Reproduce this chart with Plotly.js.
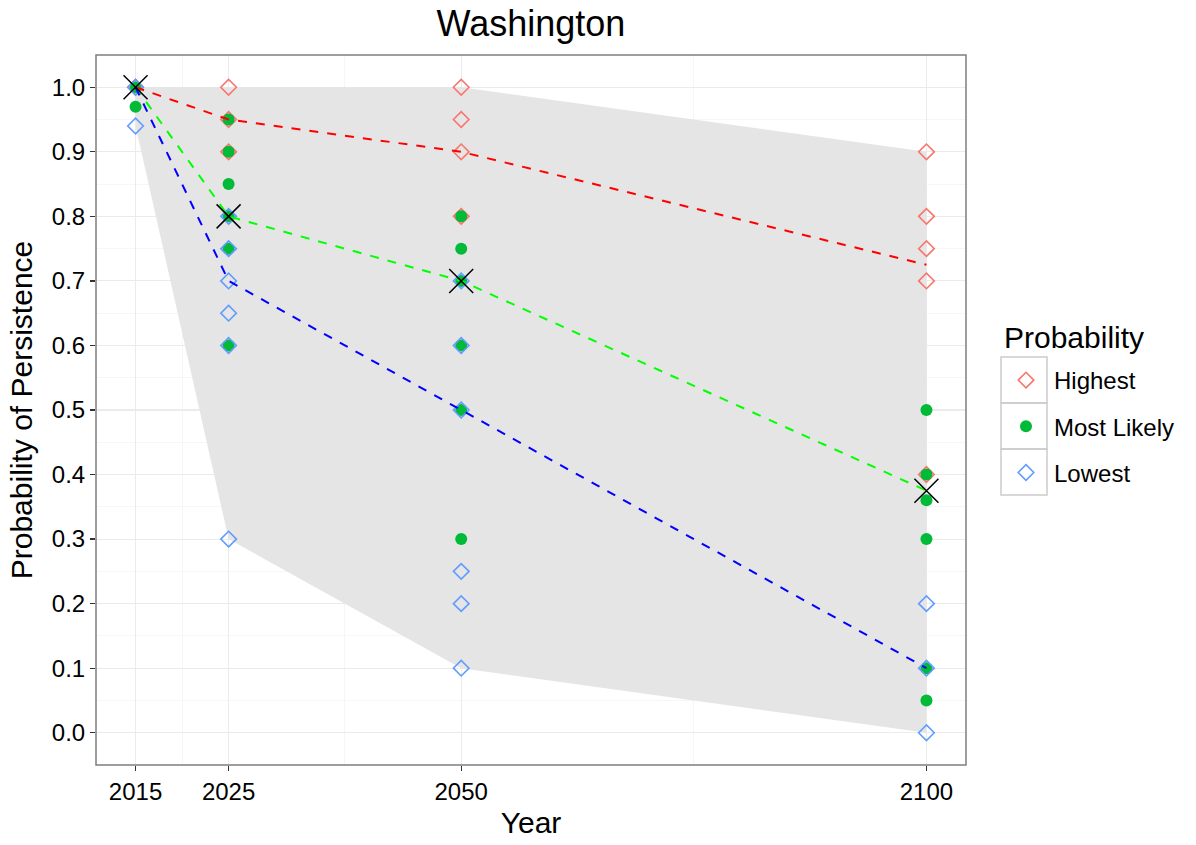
<!DOCTYPE html>
<html>
<head>
<meta charset="utf-8">
<script src="https://cdn.plot.ly/plotly-3.0.1.min.js"></script>
<style>html,body{margin:0;padding:0;background:#fff;}#chart{width:1196px;height:845px;}</style>
</head>
<body>
<div id="chart"></div>
<script>
// ---- data ----
const highestYears = [2015, 2025, 2025, 2025, 2050, 2050, 2050, 2050, 2100, 2100, 2100, 2100, 2100];
const highestVals  = [1.0, 1.0, 0.95, 0.9, 1.0, 0.95, 0.9, 0.8, 0.9, 0.8, 0.75, 0.7, 0.4];

const likelyYears = [2015, 2015, 2025, 2025, 2025, 2025, 2025, 2025, 2050, 2050, 2050, 2050, 2050, 2050, 2100, 2100, 2100, 2100, 2100, 2100];
const likelyVals  = [1.0, 0.97, 0.95, 0.9, 0.85, 0.8, 0.75, 0.6, 0.8, 0.75, 0.7, 0.6, 0.5, 0.3, 0.5, 0.4, 0.36, 0.3, 0.1, 0.05];

const lowestYears = [2015, 2015, 2025, 2025, 2025, 2025, 2025, 2025, 2050, 2050, 2050, 2050, 2050, 2050, 2100, 2100, 2100];
const lowestVals  = [1.0, 0.94, 0.8, 0.75, 0.7, 0.65, 0.6, 0.3, 0.7, 0.6, 0.5, 0.25, 0.2, 0.1, 0.2, 0.1, 0.0];

const lineYears   = [2015, 2025, 2050, 2100];
const highLine    = [1.0, 0.95, 0.9, 0.725];
const likelyLine  = [1.0, 0.8, 0.7, 0.375];
const lowLine     = [1.0, 0.7, 0.5, 0.1];
const consensus   = [1.0, 0.8, 0.7, 0.375];

const ribbonUpper = [1.0, 1.0, 1.0, 0.9];
const ribbonLower = [0.94, 0.3, 0.1, 0.0];

const xTicks = [2015, 2025, 2050, 2100];
const xMinor = [2020, 2037.5, 2075];
const yTicks = [0, 0.1, 0.2, 0.3, 0.4, 0.5, 0.6, 0.7, 0.8, 0.9, 1.0];
const yMinor = [0.05, 0.15, 0.25, 0.35, 0.45, 0.55, 0.65, 0.75, 0.85, 0.95];

const seriesNames = ['Highest', 'Most Likely', 'Lowest'];

// ---- traces ----
const FONT = 'Liberation Sans, Arial, Helvetica, sans-serif';
const traces = [];

traces.push({
  x: lineYears.concat(lineYears.slice().reverse()),
  y: ribbonUpper.concat(ribbonLower.slice().reverse()),
  type: 'scatter', mode: 'lines', fill: 'toself',
  fillcolor: '#E5E5E5', line: {width: 0, color: 'rgba(0,0,0,0)'},
  hoverinfo: 'skip', showlegend: false
});

traces.push({
  x: highestYears, y: highestVals, type: 'scatter', mode: 'markers', name: seriesNames[0],
  legendgroup: 'a',
  marker: {symbol: 'diamond-open', size: 12, color: '#F8766D', line: {width: 1.6, color: '#F8766D'}}
});
traces.push({
  x: likelyYears, y: likelyVals, type: 'scatter', mode: 'markers', name: seriesNames[1],
  legendgroup: 'b',
  marker: {symbol: 'circle', size: 12, color: '#00BA38'}
});
traces.push({
  x: lowestYears, y: lowestVals, type: 'scatter', mode: 'markers', name: seriesNames[2],
  legendgroup: 'c',
  marker: {symbol: 'diamond-open', size: 12, color: '#619CFF', line: {width: 1.6, color: '#619CFF'}}
});

const lineSpecs = [[highLine, '#FF0000'], [likelyLine, '#00FF00'], [lowLine, '#0000FF']];
lineSpecs.forEach(function (s) {
  traces.push({
    x: lineYears, y: s[0], type: 'scatter', mode: 'lines',
    line: {color: s[1], width: 2, dash: '9px,9px'},
    hoverinfo: 'skip', showlegend: false
  });
});

traces.push({
  x: lineYears, y: consensus, type: 'scatter', mode: 'markers',
  marker: {symbol: 'x-thin-open', size: 24, color: '#000', line: {width: 1.5, color: '#000'}},
  showlegend: false
});

// ---- layout ----
const L = 96, R = 966, T = 55, B = 765;
const W = R - L, H = B - T;
function px(x) { return (x - L) / W; }
function py(y) { return (B - y) / H; }

const shapes = [
  {type: 'rect', xref: 'paper', yref: 'paper', x0: 0, x1: 1, y0: 0, y1: 1,
   line: {color: '#7F7F7F', width: 1.5}, fillcolor: 'rgba(0,0,0,0)', layer: 'above'}
];
// legend key boxes
[[357, 403], [403, 449], [449, 495]].forEach(function (b) {
  shapes.push({type: 'rect', xref: 'paper', yref: 'paper',
    x0: px(1001), x1: px(1047), y0: py(b[1]), y1: py(b[0]),
    line: {color: '#CCCCCC', width: 1.5}, fillcolor: 'rgba(0,0,0,0)', layer: 'below'});
});

const layout = {
  width: 1196, height: 845,
  margin: {l: L, r: 1196 - R, t: T, b: 845 - B},
  paper_bgcolor: '#fff', plot_bgcolor: '#fff',
  font: {family: FONT, color: '#000'},
  title: {text: 'Washington', x: (L + R) / 2 / 1196, xanchor: 'center', y: 1 - 23 / 845, yanchor: 'middle',
          font: {size: 36, family: FONT, color: '#000'}},
  xaxis: {
    range: [2010.75, 2104.25], tickmode: 'array', tickvals: xTicks, ticktext: xTicks.map(String),
    showgrid: true, gridcolor: '#EBEBEB', gridwidth: 1.1, zeroline: false,
    ticks: 'outside', ticklen: 5, tickwidth: 1.2, tickcolor: '#333',
    tickfont: {size: 24, color: '#000', family: FONT},
    minor: {tickmode: 'array', tickvals: xMinor, showgrid: true, gridcolor: '#F4F4F4', gridwidth: 0.8, ticks: ''},
    title: {text: 'Year', font: {size: 30, color: '#000', family: FONT}, standoff: 8},
    showline: false
  },
  yaxis: {
    range: [-0.05, 1.05], tickmode: 'array', tickvals: yTicks, ticktext: yTicks.map(function (v) { return v.toFixed(1); }),
    showgrid: true, gridcolor: '#EBEBEB', gridwidth: 1.1, zeroline: false,
    ticks: 'outside', ticklen: 5, tickwidth: 1.2, tickcolor: '#333',
    tickfont: {size: 24, color: '#000', family: FONT},
    minor: {tickmode: 'array', tickvals: yMinor, showgrid: true, gridcolor: '#F4F4F4', gridwidth: 0.8, ticks: ''},
    title: {text: 'Probability of Persistence', font: {size: 30, color: '#000', family: FONT}, standoff: 10},
    showline: false
  },
  legend: {
    x: px(998), xanchor: 'left', y: py(358), yanchor: 'top',
    font: {size: 24, color: '#000', family: FONT},
    bgcolor: 'rgba(0,0,0,0)', borderwidth: 0,
    tracegroupgap: 12, itemwidth: 46
  },
  annotations: [
    {text: 'Probability', xref: 'paper', yref: 'paper', x: px(1002), y: py(337),
     xanchor: 'left', yanchor: 'middle', showarrow: false,
     font: {size: 30, color: '#000', family: FONT}}
  ],
  shapes: shapes,
  showlegend: true
};

Plotly.newPlot('chart', traces, layout, {displayModeBar: false, staticPlot: true});
</script>
</body>
</html>
